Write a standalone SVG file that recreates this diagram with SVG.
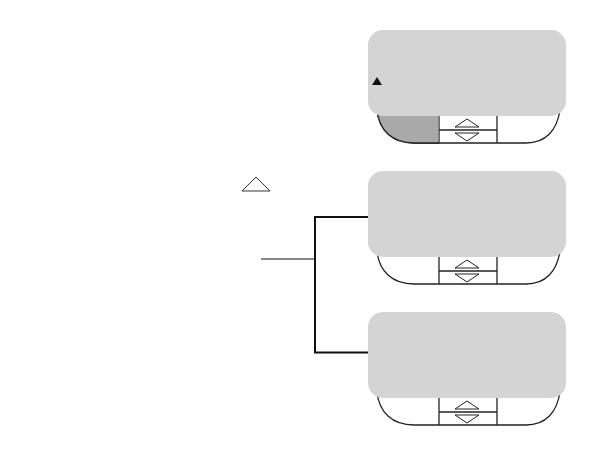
<svg xmlns="http://www.w3.org/2000/svg" width="594" height="452" viewBox="0 0 594 452">
<defs>
<style>
.base{fill:#fff;stroke:#222;stroke-width:1.3}
.screen{fill:#d4d4d4}
.ln{stroke:#222;stroke-width:1.3;fill:none}
.tri{fill:#fff;stroke:#222;stroke-width:1}
.conn{stroke:#111;stroke-width:2;fill:none}
</style>
<g id="base">
<path class="base" d="M377 110 C379 130 392 143 414 143 L526 143 C546 143 557 130 560 110 Z"/>
<line class="ln" x1="439" y1="115" x2="439" y2="143"/>
<line class="ln" x1="497" y1="115" x2="497" y2="143"/>
<line class="ln" x1="439" y1="130" x2="497" y2="130"/>
<path class="tri" d="M455 127 L467 119 L479 127 Z"/>
<path class="tri" d="M455 133 L467 141 L479 133 Z"/>
</g>
<rect id="screen" class="screen" x="368" y="30" width="198" height="86" rx="15"/>
</defs>
<g id="panel1">
<use href="#base"/>
<path d="M377 110 C379 130 392 143 414 143 L438.4 143 L438.4 110 Z" fill="#a9a9a9" stroke="none"/>
<path d="M377 110 C379 130 392 143 414 143 L439 143" class="ln"/>
<use href="#screen"/>
<path d="M372 85 L377 77 L382 85 Z" fill="#111"/>
</g>
<g id="panel2">
<use href="#base" transform="translate(0,141)"/>
<use href="#screen" transform="translate(0,141)"/>
</g>
<g id="panel3">
<use href="#base" transform="translate(0,282)"/>
<use href="#screen" transform="translate(0,282)"/>
</g>
<g id="button-icon">
<path d="M242 191 L256 177 L270 191 Z" fill="#fff" stroke="#333" stroke-width="1"/>
</g>
<g id="connectors">
<polyline class="conn" points="368,217 315,217 315,352.5 368,352.5"/>
<line x1="261" y1="259" x2="315" y2="259" stroke="#111" stroke-width="1.2"/>
</g>
</svg>
